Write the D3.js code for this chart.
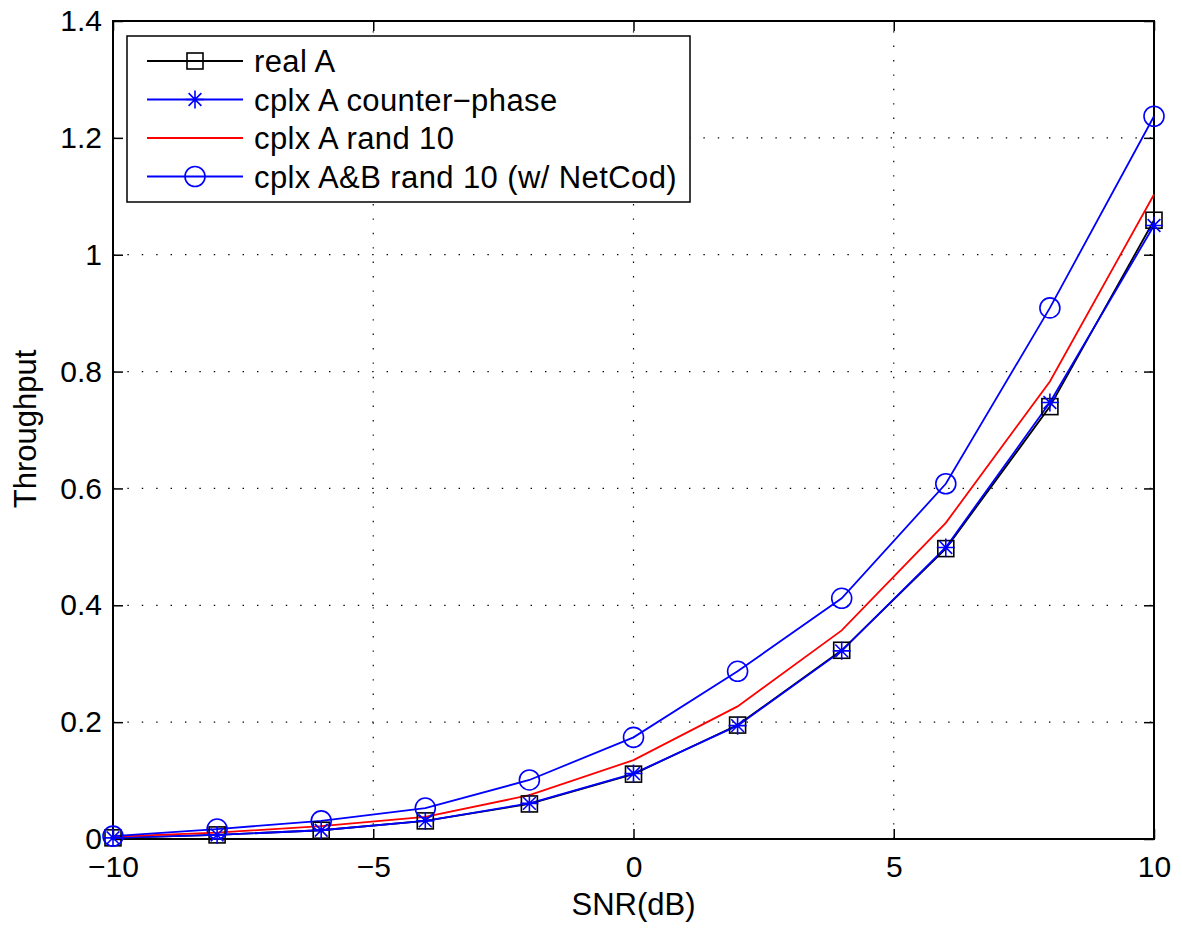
<!DOCTYPE html>
<html><head><meta charset="utf-8">
<script src="https://cdn.jsdelivr.net/npm/d3@7"></script>
<style>body{margin:0;background:#fff}svg{display:block}text{font-family:"Liberation Sans",Arial,sans-serif}</style>
</head><body>
<svg id="c" width="1182" height="928"></svg>
<script>
const snr = [-10,-8,-6,-4,-2,0,2,4,6,8,10];
const realA = [0.002,0.007,0.015,0.031,0.060,0.111,0.195,0.323,0.497,0.740,1.059];
const cplxCounter = [0.002,0.007,0.015,0.031,0.061,0.112,0.194,0.322,0.499,0.747,1.050];
const cplxRand = [0.004,0.011,0.022,0.038,0.075,0.135,0.227,0.357,0.541,0.783,1.103];
const cplxABRand = [0.005,0.017,0.031,0.053,0.101,0.174,0.287,0.412,0.608,0.909,1.237];
const xTicks = [-10,-5,0,5,10];
const yTicks = [0,0.2,0.4,0.6,0.8,1,1.2,1.4];
const legendLabels = ["real A","cplx A counter\u2212phase","cplx A rand 10","cplx A&B rand 10 (w/ NetCod)"];

const L=113,R=1154,T=21,B=839;
const svg=d3.select("#c");
const x=d3.scaleLinear().domain([-10,10]).range([L,R]);
const y=d3.scaleLinear().domain([0,1.4]).range([B,T]);
const fmtY=d=>d===0?"0":(Number.isInteger(d)?String(d):d.toFixed(1));
const fmtX=d=>d<0?"\u2212"+Math.abs(d):String(d);

// grid
const g=svg.append("g");
xTicks.slice(1,-1).forEach(t=>g.append("line").attr("x1",x(t)).attr("x2",x(t)).attr("y1",B).attr("y2",T)
  .attr("stroke","#000").attr("stroke-width",1.2).attr("stroke-dasharray","1.4,13"));
yTicks.slice(1,-1).forEach(t=>g.append("line").attr("x1",L).attr("x2",R).attr("y1",y(t)).attr("y2",y(t))
  .attr("stroke","#000").attr("stroke-width",1.2).attr("stroke-dasharray","1.4,13"));

// axes with inward ticks
const fs=30;
const axB=svg.append("g").attr("transform",`translate(0,${B})`).call(d3.axisBottom(x).tickValues(xTicks).tickSize(-10).tickPadding(17).tickFormat(fmtX));
const axT=svg.append("g").attr("transform",`translate(0,${T})`).call(d3.axisTop(x).tickValues(xTicks).tickSize(-10).tickFormat(""));
const axL=svg.append("g").attr("transform",`translate(${L},0)`).call(d3.axisLeft(y).tickValues(yTicks).tickSize(-10).tickPadding(11).tickFormat(fmtY));
const axR=svg.append("g").attr("transform",`translate(${R},0)`).call(d3.axisRight(y).tickValues(yTicks).tickSize(-10).tickFormat(""));
[axB,axT,axL,axR].forEach(a=>{a.select(".domain").remove();a.selectAll("line").attr("stroke","#000").attr("stroke-width",1.5);
  a.selectAll("text").attr("font-size",fs).attr("fill","#000").attr("font-family","Liberation Sans, Arial, sans-serif");});
svg.append("rect").attr("x",L).attr("y",T).attr("width",R-L).attr("height",B-T).attr("fill","none").attr("stroke","#000").attr("stroke-width",2);

// axis labels
svg.append("text").attr("x",(L+R)/2).attr("y",915).attr("text-anchor","middle").attr("font-size",31).text("SNR(dB)");
svg.append("text").attr("transform",`translate(36,${429}) rotate(-90)`).attr("text-anchor","middle").attr("font-size",31).text("Throughput");

const line=d3.line().x((d,i)=>x(snr[i])).y(d=>y(d));
const series=[
 {vals:realA,color:"#000",marker:"square"},
 {vals:cplxCounter,color:"#0000ff",marker:"star"},
 {vals:cplxRand,color:"#ff0000",marker:"none"},
 {vals:cplxABRand,color:"#0000ff",marker:"circle"}
];
function drawMarker(sel,type,cx,cy,color){
  if(type==="square") sel.append("rect").attr("x",cx-8).attr("y",cy-8).attr("width",16).attr("height",16).attr("fill","none").attr("stroke",color).attr("stroke-width",1.6);
  else if(type==="circle") sel.append("circle").attr("cx",cx).attr("cy",cy).attr("r",10).attr("fill","none").attr("stroke",color).attr("stroke-width",1.6);
  else if(type==="star"){
    const s=9,d=6.4;
    const p=`M${cx-s},${cy}L${cx+s},${cy}M${cx},${cy-s}L${cx},${cy+s}M${cx-d},${cy-d}L${cx+d},${cy+d}M${cx-d},${cy+d}L${cx+d},${cy-d}`;
    sel.append("path").attr("d",p).attr("stroke",color).attr("stroke-width",1.6).attr("fill","none");
  }
}
const plot=svg.append("g");
series.forEach(s=>{
  plot.append("path").attr("d",line(s.vals)).attr("fill","none").attr("stroke",s.color).attr("stroke-width",1.8);
});
series.forEach(s=>{
  s.vals.forEach((v,i)=>drawMarker(plot,s.marker,x(snr[i]),y(v),s.color));
});

// legend
const lg=svg.append("g");
lg.append("rect").attr("x",127).attr("y",36).attr("width",563).attr("height",166).attr("fill","#fff").attr("stroke","#000").attr("stroke-width",1.5);
series.forEach((s,i)=>{
  const yy=61+i*38.5;
  lg.append("line").attr("x1",147).attr("x2",243).attr("y1",yy).attr("y2",yy).attr("stroke",s.color).attr("stroke-width",1.8);
  drawMarker(lg,s.marker,195,yy,s.color);
  lg.append("text").attr("x",254).attr("y",yy+11).attr("font-size",31).attr("letter-spacing",0.4).text(legendLabels[i]);
});
</script>
</body></html>
